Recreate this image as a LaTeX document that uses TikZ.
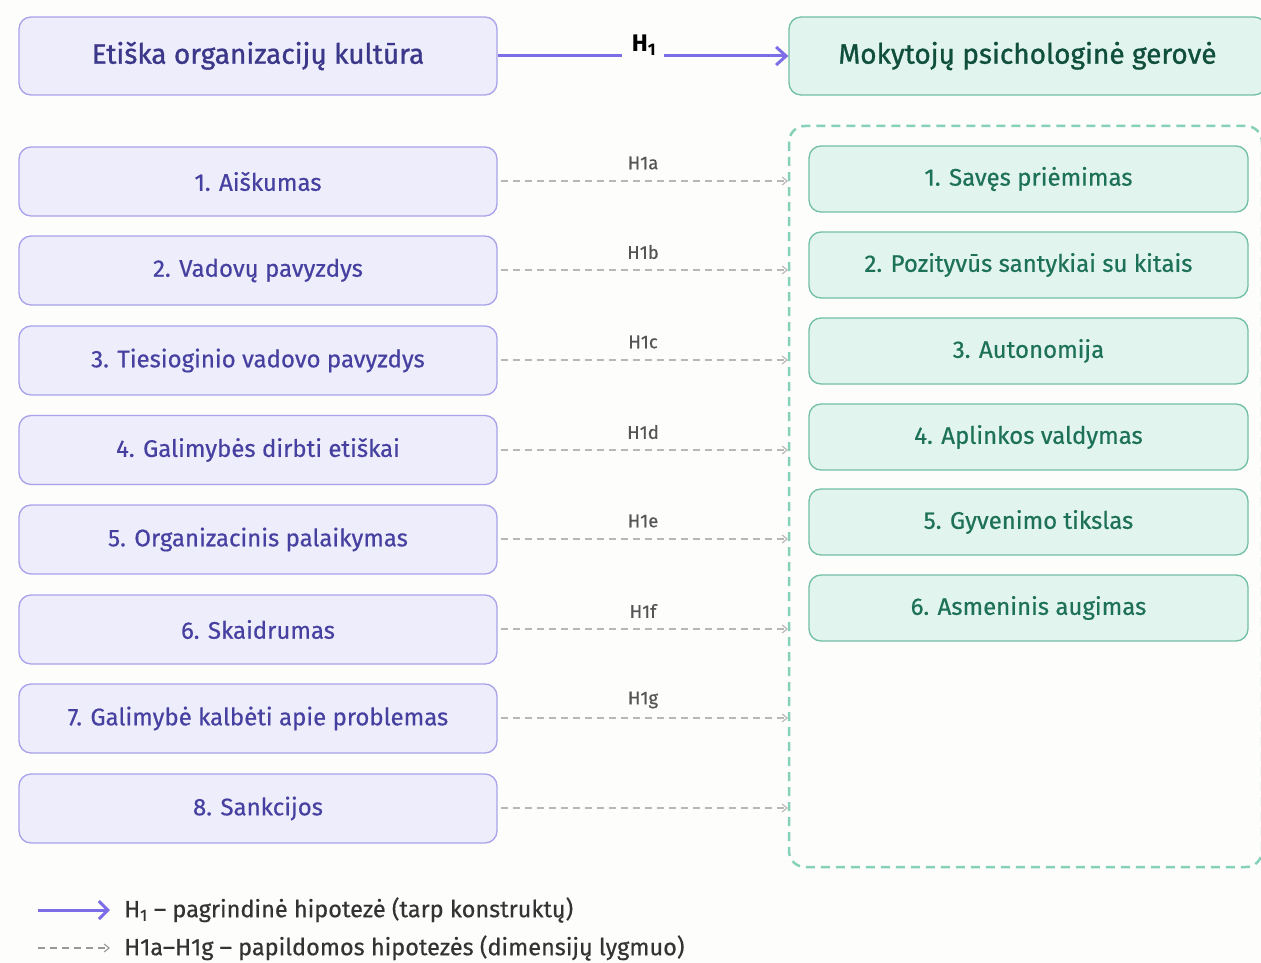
\documentclass[tikz,border=0pt]{standalone}
\usepackage{fontspec}
\setmainfont{Fira Sans}
\newfontfamily\medfont{Fira Sans}[FakeBold=0.5]
\newfontfamily\titfont{Fira Sans}[FakeBold=1.0]
\usetikzlibrary{arrows.meta}
\definecolor{bgcol}{HTML}{FDFDFC}
\definecolor{lavfill}{HTML}{EEEDFC}
\definecolor{lavdraw}{HTML}{A8A2EA}
\definecolor{lavtitle}{HTML}{3B3789}
\definecolor{lavtext}{HTML}{4640A0}
\definecolor{grnfill}{HTML}{E1F4EE}
\definecolor{grndraw}{HTML}{72BFA6}
\definecolor{grntitle}{HTML}{0F4F3B}
\definecolor{grntext}{HTML}{1D7157}
\definecolor{mainarrow}{HTML}{7C6EE6}
\definecolor{hypgray}{HTML}{B8B8B8}
\definecolor{leggray}{HTML}{999999}
\definecolor{hyplabel}{HTML}{555555}
\definecolor{contdash}{HTML}{86D1B9}
\definecolor{legtext}{HTML}{333333}
\begin{document}
\begin{tikzpicture}[x=1pt,y=-1pt,
  lavbox/.style={draw=lavdraw,fill=lavfill,line width=1.3pt,rounded corners=12pt,
    minimum width=478pt,inner sep=0pt,text=lavtext,font=\medfont\fontsize{24}{28}\selectfont},
  grnbox/.style={draw=grndraw,fill=grnfill,line width=1.3pt,rounded corners=12pt,
    minimum width=439pt,minimum height=66pt,inner sep=0pt,text=grntext,font=\medfont\fontsize{24}{28}\selectfont},
  titlefont/.style={font=\titfont\fontsize{28}{32}\selectfont},
  mainarr/.style={draw=mainarrow,line width=3pt},
  hyparr/.style={draw=hypgray,line width=1.6pt,dash pattern=on 7pt off 5pt,
    -{Straight Barb[length=5pt,width=8pt,line width=1.1pt]}},
  hyplab/.style={text=hyplabel,font=\medfont\fontsize{18.5}{20}\selectfont,inner sep=0pt},
  legendtxt/.style={text=legtext,font=\medfont\fontsize{23.5}{26}\selectfont,anchor=west,inner sep=0pt}
]
\useasboundingbox (0,0) rectangle (1261,963);
\fill[bgcol] (0,0) rectangle (1261,963);

% top boxes
\node[lavbox,minimum height=78pt,text=lavtitle,titlefont] (tl) at (258,56) {Etiška organizacijų kultūra};
\node[grnbox,minimum width=477pt,minimum height=78pt,text=grntitle,titlefont] (tr) at (1027.5,56) {Mokytojų psichologinė gerovė};

% main arrow
\node[minimum width=42pt,minimum height=10pt,inner sep=0pt] (gap) at (643,56) {};
\node[font=\fontsize{24}{28}\selectfont\bfseries,text=black,inner sep=0pt] (h1) at (644,45) {H\textsubscript{1}};
\draw[mainarr] (tl.east) -- (gap.west);
\draw[mainarr,-{Straight Barb[length=10pt,width=18pt,line width=3pt]}] (gap.east) -- (tr.west);

% dashed container
\draw[contdash,line width=2.5pt,dash pattern=on 9pt off 6pt,rounded corners=16pt] (789,126) rectangle (1262,867);

% left items
\node[lavbox,minimum height=69pt] (l1) at (258,181.5) {1. Aiškumas};
\node[lavbox,minimum height=69pt] (l2) at (258,270.5) {2. Vadovų pavyzdys};
\node[lavbox,minimum height=69pt] (l3) at (258,360.5) {3. Tiesioginio vadovo pavyzdys};
\node[lavbox,minimum height=69pt] (l4) at (258,450) {4. Galimybės dirbti etiškai};
\node[lavbox,minimum height=69pt] (l5) at (258,539.5) {5. Organizacinis palaikymas};
\node[lavbox,minimum height=69pt] (l6) at (258,629.5) {6. Skaidrumas};
\node[lavbox,minimum height=69pt] (l7) at (258,718.5) {7. Galimybė kalbėti apie problemas};
\node[lavbox,minimum height=69pt] (l8) at (258,808.5) {8. Sankcijos};

% right items
\node[grnbox] (r1) at (1028.5,179) {1. Savęs priėmimas};
\node[grnbox] (r2) at (1028.5,265) {2. Pozityvūs santykiai su kitais};
\node[grnbox] (r3) at (1028.5,351) {3. Autonomija};
\node[grnbox] (r4) at (1028.5,437) {4. Aplinkos valdymas};
\node[grnbox] (r5) at (1028.5,522) {5. Gyvenimo tikslas};
\node[grnbox] (r6) at (1028.5,608) {6. Asmeninis augimas};

% hypothesis arrows
\foreach \i/\yy/\lab in {1/181/H1a,2/270/H1b,3/360/H1c,4/450/H1d,5/539/H1e,6/629/H1f,7/718/H1g,8/808/{}}{
  \coordinate (e\i) at (788,\yy);
  \draw[hyparr] ([xshift=3pt]l\i.east |- e\i) -- (e\i);
  \node[hyplab] (hl\i) at (643,\yy-18) {\lab};
}

% legend
\coordinate (la1) at (38,910);
\coordinate (la2) at (110,910);
\coordinate (lb1) at (38,948);
\coordinate (lb2) at (110,948);
\draw[mainarr,-{Straight Barb[length=9pt,width=18pt,line width=3pt]}] (la1) -- (la2);
\draw[hyparr,draw=leggray,line width=1.3pt] (lb1) -- (lb2);
\node[legendtxt] (lt1) at (124,910) {H\textsubscript{1} – pagrindinė hipotezė (tarp konstruktų)};
\node[legendtxt] (lt2) at (124,948) {H1a–H1g – papildomos hipotezės (dimensijų lygmuo)};
\end{tikzpicture}
\end{document}
